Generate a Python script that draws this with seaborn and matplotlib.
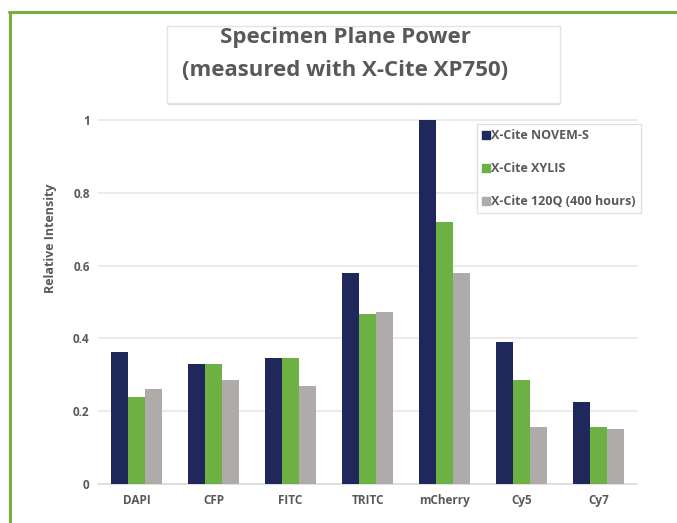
import matplotlib

matplotlib.use("Agg")
import matplotlib.pyplot as plt
import pandas as pd
import seaborn as sns
from matplotlib.lines import Line2D
from matplotlib.patches import Rectangle

# values
filters = ["DAPI", "CFP", "FITC", "TRITC", "mCherry", "Cy5", "Cy7"]
novem_s = [0.363, 0.330, 0.345, 0.580, 1.000, 0.391, 0.224]
xylis = [0.240, 0.330, 0.345, 0.467, 0.720, 0.286, 0.156]
x120q = [0.260, 0.286, 0.270, 0.473, 0.580, 0.156, 0.151]
series = ["X-Cite NOVEM-S", "X-Cite XYLIS", "X-Cite 120Q (400 hours)"]
y_ticks = [0, 0.2, 0.4, 0.6, 0.8, 1.0]
y_tick_labels = ["0", "0.2", "0.4", "0.6", "0.8", "1"]

colors = ["#1f275b", "#6db043", "#afabab"]
text_grey = "#595959"

df = pd.DataFrame(
    {
        "Filter": filters * 3,
        "Lamp": [s for s in series for _ in filters],
        "Intensity": novem_s + xylis + x120q,
    }
)

sns.set_theme(style="white")
plt.rcParams["font.family"] = ["Open Sans", "DejaVu Sans"]

fig = plt.figure(figsize=(6.77, 5.23), dpi=100)
ax = fig.add_axes([98 / 677, 39 / 523, 539 / 677, 364 / 523])

sns.barplot(
    data=df,
    x="Filter",
    y="Intensity",
    hue="Lamp",
    order=filters,
    hue_order=series,
    palette=colors,
    width=0.66,
    saturation=1,
    linewidth=0,
    ax=ax,
    legend=False,
    zorder=3,
)

ax.set_ylim(0, 1.0)
ax.set_xlim(-0.5, len(filters) - 0.5)
ax.set_yticks(y_ticks)
ax.set_yticklabels(y_tick_labels)
for y in y_ticks:
    ax.axhline(y, color="#e6e6e6" if y > 0 else "#d6d6d6", lw=1.1, zorder=1, clip_on=False)
for side in ax.spines.values():
    side.set_visible(False)
ax.tick_params(axis="both", length=0, labelsize=8.5, colors=text_grey)
ax.tick_params(axis="y", pad=6)
ax.tick_params(axis="x", pad=7)
for lbl in ax.get_xticklabels() + ax.get_yticklabels():
    lbl.set_fontweight("bold")

ax.set_xlabel("")
ax.set_ylabel("Relative Intensity", fontsize=9, color=text_grey, fontweight="bold")
ax.yaxis.set_label_coords(-0.076, 0.676)

handles = [
    Line2D([], [], marker="s", linestyle="none", markersize=5.5, color=c) for c in colors
]
leg = ax.legend(
    handles,
    series,
    loc="upper left",
    bbox_to_anchor=(0.703, 0.988),
    frameon=True,
    fancybox=False,
    fontsize=9,
    labelspacing=1.6,
    handletextpad=0.05,
    handlelength=0.7,
    borderpad=0.4,
    borderaxespad=0,
)
leg.get_frame().set_edgecolor("#d9d9d9")
leg.get_frame().set_linewidth(1.0)
for t in leg.get_texts():
    t.set_color(text_grey)
    t.set_fontweight("bold")

# title box with a soft shadow underneath
fig.add_artist(
    Rectangle((168 / 677, 1 - 105 / 523), 392 / 677, 2 / 523,
              transform=fig.transFigure, facecolor="#d9d9d9", edgecolor="none")
)
fig.add_artist(
    Rectangle((167 / 677, 1 - 103 / 523), 393 / 677, 77 / 523,
              transform=fig.transFigure, facecolor="white", edgecolor="#e3e3e3", lw=1)
)
fig.text(345 / 677, 1 - 38 / 523, "Specimen Plane Power", ha="center", va="center",
         fontsize=16, fontweight="bold", color=text_grey)
fig.text(345 / 677, 1 - 70 / 523, "(measured with X-Cite XP750)", ha="center",
         va="center", fontsize=16, fontweight="bold", color=text_grey)

# green frame on the top and left
fig.add_artist(Line2D([9 / 677, 1], [1 - 11.5 / 523] * 2, transform=fig.transFigure,
                      color="#7aad3a", lw=2.2))
fig.add_artist(Line2D([10 / 677] * 2, [0, 1 - 11.5 / 523], transform=fig.transFigure,
                      color="#7aad3a", lw=2.2))

fig.savefig("out.png", dpi=100)
plt.close(fig)
